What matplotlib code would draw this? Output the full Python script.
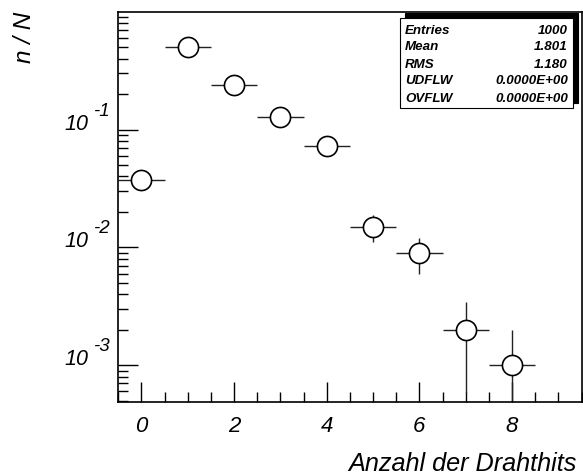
import matplotlib
matplotlib.use("Agg")
import matplotlib.pyplot as plt
import numpy as np
from matplotlib.patches import Rectangle
from matplotlib.transforms import ScaledTranslation
from matplotlib.ticker import FixedLocator, MultipleLocator, NullFormatter, LogLocator

plt.rcParams["font.family"] = ["Liberation Sans", "DejaVu Sans"]
plt.rcParams["font.style"] = "italic"

# Drahthits pro Spur, 1000 Eintraege
hits = np.array([0, 1, 2, 3, 4, 5, 6, 7, 8])
counts = np.array([37, 497, 237, 129, 73, 15, 9, 2, 1])

x_ticks = [0, 2, 4, 6, 8]
y_ticks = [1e-3, 1e-2, 1e-1]
y_exponents = ["-3", "-2", "-1"]

n_tot = counts.sum()
frac = counts / n_tot
err = np.sqrt(counts) / n_tot
err_lo = np.where(frac - err > 0, err, frac - 1e-7)

mean = (hits * counts).sum() / n_tot
rms = np.sqrt((hits**2 * counts).sum() / n_tot - mean**2)

W, H = 583, 475
fig = plt.figure(figsize=(W / 100, H / 100), dpi=100)
L, R, T, B = 118.3, 581.5, 11.7, 401.7
ax = fig.add_axes([L / W, 1 - B / H, (R - L) / W, (B - T) / H])

ax.errorbar(hits, frac, xerr=0.5, yerr=[err_lo, err], fmt="o", ms=14.5,
            mfc="white", mec="black", mew=1.2, ecolor="#222222",
            elinewidth=1.0, capsize=0)

ax.set_yscale("log")
ax.set_xlim(-0.5, 9.5)
ax.set_ylim(4.9e-4, 1.0)

for s in ax.spines.values():
    s.set_linewidth(1.2)

ax.xaxis.set_major_locator(FixedLocator(x_ticks))
ax.xaxis.set_minor_locator(MultipleLocator(0.5))
ax.set_xticklabels([str(t) for t in x_ticks])
ax.yaxis.set_major_locator(FixedLocator(y_ticks))
ax.yaxis.set_minor_locator(LogLocator(base=10, subs=np.arange(2, 10)))
ax.yaxis.set_minor_formatter(NullFormatter())
ax.set_yticklabels(["10"] * len(y_ticks))

ax.tick_params(which="both", direction="in", top=False, right=False, width=1.0)
ax.tick_params(which="major", length=14.4)
ax.tick_params(which="minor", length=7.2)
ax.tick_params(axis="x", which="major", labelsize=16, pad=10.5)
ax.tick_params(axis="y", which="major", labelsize=15.5, pad=21.5)
plt.setp(ax.get_yticklabels(), va="baseline")

# Exponenten der Zehnerpotenzen
ytr = ax.get_yaxis_transform() + ScaledTranslation(0, 14 / 100, fig.dpi_scale_trans)
for yv, ex in zip(y_ticks, y_exponents):
    ax.text((110 - L) / (R - L), yv, ex, transform=ytr, fontsize=13.5,
            ha="right", va="baseline")

ax.set_xlabel("Anzahl der Drahthits", fontsize=18.2, ha="right", va="baseline")
ax.xaxis.set_label_coords((577 - L) / (R - L), (B - 471) / (B - T))
ax.set_ylabel("n / N", fontsize=17.5)
ax.yaxis.set_label_coords((36 - L) / (R - L), (B - 37) / (B - T))


def ax_pt(px, py):
    return (px - L) / (R - L), (B - py) / (B - T)


# Statistikbox mit Schatten
bx0, by0 = ax_pt(400, 108)
bx1, by1 = ax_pt(573, 18)
sx0, sy0 = ax_pt(405, 103)
sx1, sy1 = ax_pt(578, 13)
ax.add_patch(Rectangle((sx0, sy0), sx1 - sx0, sy1 - sy0, transform=ax.transAxes,
                       facecolor="black", edgecolor="black", lw=0.8, zorder=5))
ax.add_patch(Rectangle((bx0, by0), bx1 - bx0, by1 - by0, transform=ax.transAxes,
                       facecolor="white", edgecolor="black", lw=0.8, zorder=6))

rows = [("Entries", f"{n_tot}"),
        ("Mean", f"{mean:.3f}"),
        ("RMS", f"{rms:.3f}"),
        ("UDFLW", "0.0000E+00"),
        ("OVFLW", "0.0000E+00")]
row_y = [31, 47.5, 64.5, 81.5, 98.5]
for (name, val), py in zip(rows, row_y):
    xl, yy = ax_pt(405, py)
    xr, _ = ax_pt(568, py)
    ax.text(xl, yy, name, transform=ax.transAxes, fontsize=9.6, weight="bold",
            ha="left", va="center", zorder=7)
    ax.text(xr, yy, val, transform=ax.transAxes, fontsize=9.6, weight="bold",
            ha="right", va="center", zorder=7)

fig.savefig("out.png", dpi=100)
